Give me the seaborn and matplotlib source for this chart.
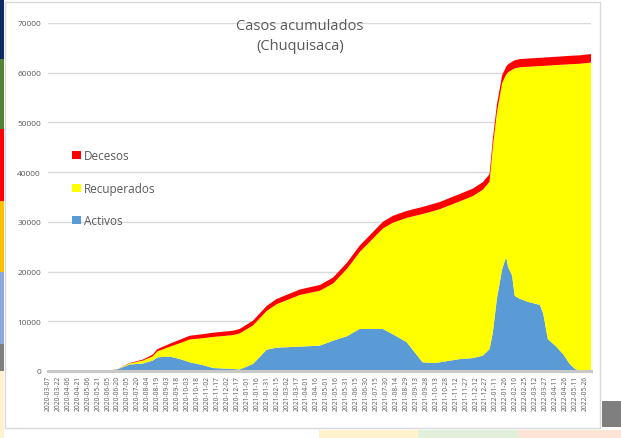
import numpy as np
import pandas as pd
import matplotlib
matplotlib.use("Agg")
import matplotlib.pyplot as plt
import matplotlib.dates as mdates
from matplotlib.patches import Rectangle, Patch
import seaborn as sns

# ---------------- data ----------------
dates = ["2020-03-07", "2020-05-20", "2020-06-05", "2020-06-20", "2020-07-08",
         "2020-07-28", "2020-08-12", "2020-08-19", "2020-09-07", "2020-09-22",
         "2020-10-07", "2020-10-26", "2020-11-11", "2020-12-11", "2020-12-21",
         "2021-01-10", "2021-01-31", "2021-02-15", "2021-03-22", "2021-04-21",
         "2021-05-11", "2021-06-01", "2021-06-20", "2021-07-25", "2021-08-09",
         "2021-08-30", "2021-09-23", "2021-10-09", "2021-10-19", "2021-11-18",
         "2021-12-08", "2021-12-23", "2022-01-02", "2022-01-07", "2022-01-13",
         "2022-01-21", "2022-01-27", "2022-01-30", "2022-02-05", "2022-02-09",
         "2022-02-17", "2022-03-01", "2022-03-19", "2022-03-24", "2022-03-31",
         "2022-04-11", "2022-04-23", "2022-05-03", "2022-05-11", "2022-05-18",
         "2022-06-04"]

activos = [0, 0, 50, 350, 1300,
           1500, 2100, 2750, 2900, 2400,
           1750, 1200, 600, 400, 300,
           1400, 4300, 4700, 4900, 5100,
           6100, 7000, 8450, 8450, 7400,
           5800, 1750, 1600, 1750, 2400,
           2600, 3100, 4400, 7800, 14500,
           20500, 22900, 20900, 19200, 15100,
           14500, 13900, 13300, 11500, 6400,
           5100, 3400, 1400, 400, 100,
           0]

recuperados = [0, 0, 10, 40, 220,
               600, 850, 1200, 2000, 3200,
               4600, 5400, 6250, 6820, 7250,
               7750, 7800, 8750, 10400, 11050,
               11500, 13550, 15450, 20200, 22420,
               25000, 29830, 30560, 30800, 31720,
               32600, 33380, 33670, 37360, 37450,
               37450, 36700, 39200, 41380, 45770,
               46610, 47300, 48040, 49860, 55030,
               56430, 58220, 60310, 61360, 61700,
               62050]

decesos = [0, 0, 0, 10, 80,
           200, 350, 450, 600, 700,
           750, 800, 850, 880, 900,
           950, 1000, 1050, 1100, 1150,
           1200, 1250, 1300, 1350, 1380,
           1400, 1420, 1440, 1450, 1480,
           1500, 1520, 1530, 1540, 1550,
           1570, 1590, 1600, 1620, 1630,
           1640, 1650, 1660, 1660, 1670,
           1670, 1680, 1690, 1690, 1700,
           1700]

series_labels = ["Activos", "Recuperados", "Decesos"]
title_lines = ["Casos acumulados", "(Chuquisaca)"]

tick_labels = [
    "2020-03-07", "2020-03-22", "2020-04-06", "2020-04-21", "2020-05-06", "2020-05-21",
    "2020-06-05", "2020-06-20", "2020-07-05", "2020-07-20", "2020-08-04", "2020-08-19",
    "2020-09-03", "2020-09-18", "2020-10-03", "2020-10-18", "2020-11-02", "2020-11-17",
    "2020-12-02", "2020-12-17", "2021-01-01", "2021-01-16", "2021-01-31", "2021-02-15",
    "2021-03-02", "2021-03-17", "2021-04-01", "2021-04-16", "2021-05-01", "2021-05-16",
    "2021-05-31", "2021-06-15", "2021-06-30", "2021-07-15", "2021-07-30", "2021-08-14",
    "2021-08-29", "2021-09-13", "2021-09-28", "2021-10-13", "2021-10-28", "2021-11-12",
    "2021-11-27", "2021-12-12", "2021-12-27", "2022-01-11", "2022-01-26", "2022-02-10",
    "2022-02-25", "2022-03-12", "2022-03-27", "2022-04-11", "2022-04-26", "2022-05-11",
    "2022-05-26"]
y_ticks = [0, 10000, 20000, 30000, 40000, 50000, 60000, 70000]

colors = {"Activos": "#5B9BD5", "Recuperados": "#FFFF00", "Decesos": "#FF0000"}
text_gray = "#595959"

# ---------------- figure ----------------
sns.set_theme(style="white")
plt.rcParams["font.family"] = ["Open Sans", "DejaVu Sans"]

W, H = 621, 439
fig = plt.figure(figsize=(W / 100, H / 100), dpi=100)
fig.patch.set_facecolor("white")

def fx(px):
    return px / W

def fy(py):
    return 1 - py / H

# background panel decorations (dashboard context)
fig.patches.append(Rectangle((fx(5), fy(429)), fx(595), (429 - 3) / H,
                             transform=fig.transFigure, facecolor="white",
                             edgecolor="#D9D9D9", lw=1.0, zorder=-5))
strips = [(0, 60, "#0E2A66"), (60, 130, "#548235"), (130, 202, "#FF0000"),
          (202, 273, "#FFC000"), (273, 345, "#8EA9DB"), (345, 372, "#7F7F7F"),
          (372, 439, "#FFF2CC")]
for y0, y1, c in strips:
    fig.patches.append(Rectangle((0, fy(y1)), fx(4), (y1 - y0) / H,
                                 transform=fig.transFigure, facecolor=c,
                                 edgecolor="none", zorder=-4))
fig.patches.append(Rectangle((fx(602), fy(428)), fx(19), 26 / H,
                             transform=fig.transFigure, facecolor="#7F7F7F",
                             edgecolor="none", zorder=-4))
for x0, x1, c in [(319, 418, "#FFF2CC"), (418, 518, "#E2EFDA"), (518, 621, "#FCE4D6")]:
    fig.patches.append(Rectangle((fx(x0), 0), fx(x1 - x0), 8 / H,
                                 transform=fig.transFigure, facecolor=c,
                                 edgecolor="none", zorder=-4))

ax = fig.add_axes([fx(48), fy(372), fx(591 - 48), (372 - 24) / H])
ax.set_zorder(5)
ax.set_facecolor("none")

x = pd.to_datetime(dates)
ax.stackplot(x, activos, recuperados, decesos,
             colors=[colors[s] for s in series_labels],
             edgecolor="none", zorder=2)

ax.set_xlim(pd.Timestamp("2020-03-07"), pd.Timestamp("2022-06-04"))
ax.set_ylim(0, 70000)
ax.set_yticks(y_ticks)
ax.set_yticklabels([str(v) for v in y_ticks])
ax.set_xticks(pd.to_datetime(tick_labels))
ax.set_xticklabels(tick_labels, rotation=90)

ax.yaxis.grid(True, color="#D9D9D9", lw=1.0, zorder=0)
ax.xaxis.grid(False)
ax.set_axisbelow(True)
for s in ["top", "right", "left"]:
    ax.spines[s].set_visible(False)
ax.spines["bottom"].set_color("#C8C8C8")
ax.spines["bottom"].set_linewidth(2.2)
ax.spines["bottom"].set_zorder(3)
ax.tick_params(axis="y", length=0, pad=5, labelsize=6.0, labelcolor=text_gray)
ax.tick_params(axis="x", length=0, pad=3, labelsize=4.8, labelcolor=text_gray)

fig.text(fx(300), fy(26.5), title_lines[0], ha="center", va="center",
         fontsize=10.5, color=text_gray, zorder=10)
fig.text(fx(300), fy(47), title_lines[1], ha="center", va="center",
         fontsize=10.5, color=text_gray, zorder=10)

handles = [Patch(facecolor=colors[s], edgecolor="none", label=s)
           for s in ["Decesos", "Recuperados", "Activos"]]
ax.legend(handles=handles, loc="upper left", frameon=False,
          bbox_to_anchor=(fx(66.5), fy(144.5)), bbox_transform=fig.transFigure,
          fontsize=8.5, labelcolor=text_gray, handlelength=0.72,
          handleheight=0.72, handletextpad=0.28, labelspacing=1.65, borderpad=0)

fig.savefig("out.png", dpi=100)
